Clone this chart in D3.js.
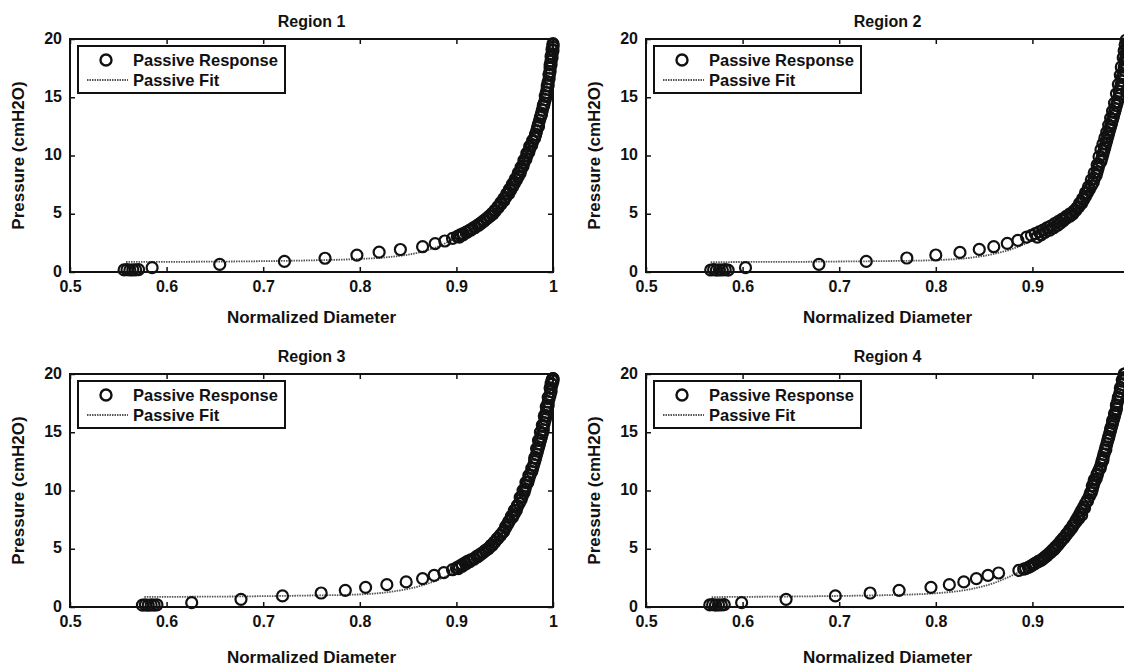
<!DOCTYPE html>
<html>
<head>
<meta charset="utf-8">
<script src="https://cdn.jsdelivr.net/npm/d3@7"></script>
<style>
  body { margin: 0; background: #fff; }
  svg text { font-family: "Liberation Sans", Arial, sans-serif; font-weight: bold; fill: #111; }
</style>
</head>
<body>
<div id="chart"></div>
<script>
// ---- data ----
const regionNames = ["Region 1", "Region 2", "Region 3", "Region 4"];
const xTicks = [0.5, 0.6, 0.7, 0.8, 0.9, 1];
const yTicks = [0, 5, 10, 15, 20];
const legendLabels = ["Passive Response", "Passive Fit"];

// [normalized diameter, pressure] -- first sweep
const r1Response = [[0.556,0.18],[0.559,0.2],[0.562,0.17],[0.565,0.19],[0.568,0.18],[0.571,0.2],[0.585,0.37],[0.655,0.65],[0.722,0.91],[0.764,1.18],[0.797,1.45],[0.82,1.7],[0.842,1.93],[0.865,2.17],[0.878,2.43],[0.888,2.66],[0.896,2.88],
  [0.901,3.05],[0.904,3.18],[0.907,3.3],[0.91,3.42],[0.913,3.55],[0.916,3.7],[0.919,3.86],[0.922,4.02],[0.925,4.2],[0.928,4.38],[0.931,4.58],[0.934,4.8],[0.937,5.02],[0.94,5.3],[0.943,5.6],[0.946,5.95],[0.949,6.3],[0.952,6.7],[0.955,7.1],[0.958,7.55],[0.961,8.0],[0.964,8.5],[0.967,9.0],[0.97,9.6],[0.973,10.2],[0.976,10.8],[0.979,11.3],[0.982,11.8],[0.985,12.5],[0.988,13.5],[0.99,14.3],[0.992,15.1],[0.994,16.0],[0.996,17.0],[0.997,17.8],[0.998,18.5],[0.999,19.1],[1.0,19.5]];
// second sweep, denser near the top
const r1Cluster = [[0.903,3.0],[0.907,3.2],[0.911,3.4],[0.915,3.6],[0.919,3.8],[0.923,4.0],[0.926,4.2],[0.929,4.4],[0.932,4.6],[0.935,4.8],[0.938,5.0],[0.94,5.2],[0.943,5.5],[0.946,5.8],[0.949,6.1],[0.951,6.4],[0.954,6.7],[0.956,7.0],[0.958,7.3],[0.96,7.6],[0.962,7.9],[0.964,8.2],[0.966,8.5],[0.967,8.8],[0.969,9.1],[0.97,9.4],[0.972,9.7],[0.973,10.0],[0.975,10.3],[0.976,10.6],[0.978,10.9],[0.979,11.2],[0.981,11.5],[0.982,11.8],[0.983,12.1],[0.984,12.4],[0.985,12.7],[0.986,13.0],[0.987,13.3],[0.988,13.6],[0.989,13.9],[0.99,14.2],[0.991,14.5],[0.992,14.8],[0.993,15.1],[0.993,15.4],[0.994,15.7],[0.995,16.0],[0.995,16.3],[0.996,16.6],[0.996,16.9],[0.997,17.2],[0.997,17.5],[0.998,17.8],[0.998,18.1],[0.999,18.4],[0.999,18.7],[1.0,19.0],[1.0,19.3],[1.0,19.6]];
const r1Fit = [[0.558,0.86],[0.6,0.87],[0.65,0.89],[0.7,0.93],[0.75,1.0],[0.8,1.12],[0.83,1.28],[0.86,1.65],[0.88,2.15],[0.9,2.95],[0.92,3.9],[0.94,5.25],[0.96,7.7],[0.97,9.5],[0.98,11.5],[0.99,14.3],[1.0,19.5]];

const r2Response = [[0.567,0.17],[0.57,0.2],[0.573,0.16],[0.576,0.19],[0.579,0.17],[0.582,0.2],[0.585,0.16],[0.603,0.37],[0.679,0.66],[0.728,0.91],[0.77,1.2],[0.8,1.46],[0.825,1.68],[0.845,1.94],[0.86,2.17],[0.874,2.46],[0.885,2.71],[0.894,3.0],
  [0.899,3.15],[0.903,3.3],[0.907,3.45],[0.911,3.6],[0.915,3.78],[0.919,3.95],[0.923,4.15],[0.927,4.35],[0.931,4.55],[0.935,4.78],[0.939,5.0],[0.943,5.25],[0.946,5.5],[0.949,5.9],[0.952,6.3],[0.955,6.8],[0.958,7.3],[0.961,7.9],[0.964,8.5],[0.967,9.2],[0.969,9.9],[0.971,10.5],[0.973,11.0],[0.975,11.5],[0.977,12.0],[0.979,12.6],[0.981,13.2],[0.983,13.8],[0.985,14.5],[0.987,15.3],[0.989,16.1],[0.991,16.9],[0.992,17.6],[0.994,18.4],[0.995,19.0],[0.996,19.5],[0.997,19.9]];
const r2Cluster = [[0.905,3.0],[0.909,3.2],[0.913,3.4],[0.918,3.6],[0.922,3.8],[0.926,4.0],[0.929,4.2],[0.932,4.4],[0.935,4.6],[0.939,4.8],[0.942,5.0],[0.945,5.3],[0.948,5.6],[0.951,5.9],[0.953,6.2],[0.955,6.5],[0.957,6.8],[0.959,7.1],[0.961,7.4],[0.963,7.7],[0.964,8.0],[0.966,8.3],[0.967,8.6],[0.968,8.9],[0.969,9.2],[0.971,9.5],[0.972,9.8],[0.973,10.1],[0.974,10.4],[0.975,10.7],[0.976,11.0],[0.977,11.3],[0.978,11.6],[0.979,11.9],[0.98,12.2],[0.981,12.5],[0.982,12.8],[0.983,13.1],[0.984,13.4],[0.985,13.7],[0.986,14.0],[0.987,14.3],[0.988,14.6],[0.989,14.9],[0.99,15.2],[0.99,15.5],[0.991,15.8],[0.992,16.1],[0.993,16.4],[0.993,16.7],[0.994,17.0],[0.995,17.3],[0.995,17.6],[0.996,17.9],[0.996,18.2],[0.997,18.5],[0.997,18.8],[0.998,19.1],[0.998,19.4],[0.999,19.7]];
const r2Fit = [[0.567,0.85],[0.6,0.86],[0.65,0.87],[0.7,0.9],[0.75,0.94],[0.8,1.02],[0.83,1.17],[0.86,1.55],[0.88,2.0],[0.9,2.7],[0.92,3.6],[0.94,4.9],[0.96,7.3],[0.97,9.6],[0.98,12.5],[0.99,16.2],[0.997,19.9]];

const r3Response = [[0.575,0.16],[0.578,0.19],[0.581,0.15],[0.584,0.18],[0.587,0.16],[0.59,0.19],[0.626,0.37],[0.677,0.66],[0.72,0.95],[0.76,1.2],[0.785,1.43],[0.806,1.69],[0.828,1.92],[0.848,2.15],[0.865,2.44],[0.877,2.72],[0.887,2.95],[0.896,3.2],
  [0.9,3.35],[0.903,3.5],[0.906,3.65],[0.909,3.8],[0.912,3.95],[0.915,4.05],[0.918,4.15],[0.921,4.35],[0.924,4.5],[0.927,4.65],[0.93,4.85],[0.933,5.0],[0.936,5.3],[0.939,5.55],[0.942,5.85],[0.945,6.1],[0.948,6.4],[0.951,6.9],[0.954,7.3],[0.957,7.8],[0.96,8.3],[0.963,8.7],[0.966,9.4],[0.969,10.0],[0.972,10.7],[0.975,11.3],[0.978,11.9],[0.981,12.8],[0.983,13.6],[0.985,14.3],[0.987,15.0],[0.989,15.6],[0.991,16.4],[0.993,17.2],[0.995,18.0],[0.997,18.8],[0.998,19.2],[0.999,19.5],[1.0,19.6]];
const r3Cluster = [[0.902,3.3],[0.906,3.5],[0.91,3.7],[0.914,3.9],[0.918,4.1],[0.922,4.3],[0.925,4.5],[0.928,4.7],[0.931,4.9],[0.934,5.1],[0.937,5.3],[0.94,5.6],[0.943,5.9],[0.946,6.2],[0.949,6.5],[0.951,6.8],[0.953,7.1],[0.955,7.4],[0.958,7.7],[0.96,8.0],[0.962,8.3],[0.963,8.6],[0.965,8.9],[0.967,9.2],[0.968,9.5],[0.97,9.8],[0.971,10.1],[0.972,10.4],[0.974,10.7],[0.975,11.0],[0.976,11.3],[0.978,11.6],[0.979,11.9],[0.98,12.2],[0.981,12.5],[0.982,12.8],[0.983,13.1],[0.984,13.4],[0.985,13.7],[0.986,14.0],[0.987,14.3],[0.988,14.6],[0.989,14.9],[0.99,15.2],[0.99,15.5],[0.991,15.8],[0.992,16.1],[0.993,16.4],[0.993,16.7],[0.994,17.0],[0.995,17.3],[0.995,17.6],[0.996,17.9],[0.997,18.2],[0.998,18.5],[0.998,18.8],[0.999,19.1],[1.0,19.4],[1.0,19.6]];
const r3Fit = [[0.577,0.86],[0.6,0.87],[0.65,0.89],[0.7,0.93],[0.75,0.99],[0.8,1.08],[0.83,1.28],[0.86,1.75],[0.88,2.3],[0.9,3.1],[0.92,4.15],[0.94,5.6],[0.96,8.0],[0.97,9.9],[0.98,12.3],[0.99,15.6],[1.0,19.6]];

const r4Response = [[0.566,0.18],[0.569,0.2],[0.572,0.16],[0.575,0.19],[0.578,0.17],[0.581,0.2],[0.599,0.37],[0.645,0.66],[0.696,0.95],[0.732,1.2],[0.762,1.43],[0.795,1.69],[0.814,1.92],[0.829,2.15],[0.842,2.44],[0.854,2.72],[0.865,2.92],
  [0.886,3.14],[0.891,3.25],[0.896,3.4],[0.9,3.6],[0.903,3.75],[0.906,3.9],[0.909,4.0],[0.912,4.2],[0.915,4.4],[0.918,4.65],[0.921,4.9],[0.924,5.15],[0.927,5.4],[0.93,5.7],[0.933,5.95],[0.936,6.3],[0.939,6.65],[0.942,7.0],[0.945,7.3],[0.948,7.6],[0.951,7.9],[0.954,8.5],[0.957,9.1],[0.96,9.8],[0.962,10.4],[0.964,10.9],[0.967,11.4],[0.97,11.9],[0.973,12.6],[0.976,13.5],[0.979,14.6],[0.981,15.3],[0.983,16.0],[0.985,16.6],[0.987,17.3],[0.989,18.0],[0.991,18.8],[0.993,19.5],[0.995,20.0]];
const r4Cluster = [[0.893,3.3],[0.898,3.5],[0.902,3.7],[0.906,3.9],[0.91,4.1],[0.913,4.3],[0.916,4.5],[0.919,4.7],[0.922,4.9],[0.924,5.1],[0.926,5.3],[0.929,5.6],[0.932,5.9],[0.935,6.2],[0.938,6.5],[0.941,6.8],[0.943,7.1],[0.945,7.4],[0.947,7.7],[0.949,8.0],[0.951,8.3],[0.953,8.6],[0.955,8.9],[0.957,9.2],[0.959,9.5],[0.961,9.8],[0.962,10.1],[0.963,10.4],[0.964,10.7],[0.966,11.0],[0.967,11.3],[0.968,11.6],[0.97,11.9],[0.971,12.2],[0.972,12.5],[0.973,12.8],[0.974,13.1],[0.975,13.4],[0.976,13.7],[0.977,14.0],[0.978,14.3],[0.979,14.6],[0.98,14.9],[0.981,15.2],[0.982,15.5],[0.983,15.8],[0.984,16.1],[0.985,16.4],[0.986,16.7],[0.987,17.0],[0.987,17.3],[0.988,17.6],[0.989,17.9],[0.99,18.2],[0.991,18.5],[0.992,18.8],[0.993,19.1],[0.994,19.4],[0.995,19.7],[0.996,20.0]];
const r4Fit = [[0.568,0.85],[0.6,0.87],[0.65,0.9],[0.7,0.95],[0.75,1.02],[0.8,1.18],[0.84,1.6],[0.86,2.05],[0.88,2.75],[0.9,3.6],[0.92,4.8],[0.94,6.6],[0.96,9.6],[0.97,11.8],[0.98,14.8],[0.99,18.3],[0.995,20.0]];

const responses = [r1Response.concat(r1Cluster), r2Response.concat(r2Cluster),
                   r3Response.concat(r3Cluster), r4Response.concat(r4Cluster)];
const fits = [r1Fit, r2Fit, r3Fit, r4Fit];

// ---- layout ----
const W = 1124, H = 666;
const panelLeft = [70, 646];
const panelTop = [39, 374];
const xLabelGap = [45, 50];
const pw = 483, ph = 233;
const tickLen = 5;
const ink = "#111";

const svg = d3.select("#chart").append("svg")
  .attr("width", W).attr("height", H);

function styleTicks(a) {
  a.select(".domain").remove();
  a.selectAll("line").attr("stroke", ink).attr("stroke-width", 1.5);
  a.selectAll("text").attr("font-size", 16).attr("fill", ink);
}

regionNames.forEach((name, i) => {
  const row = Math.floor(i / 2);
  const px = panelLeft[i % 2], py = panelTop[row];
  const g = svg.append("g").attr("transform", `translate(${px},${py})`);

  const x = d3.scaleLinear().domain([0.5, 1]).range([0, pw]);
  const y = d3.scaleLinear().domain([0, 20]).range([ph, 0]);

  const clipId = "clip" + i;
  g.append("clipPath").attr("id", clipId)
    .append("rect").attr("x", -8).attr("y", -8).attr("width", pw + 16).attr("height", ph + 16);

  // matlab-style box: ticks inside on all four sides
  g.append("g").attr("transform", `translate(0,${ph})`)
    .call(d3.axisBottom(x).tickValues(xTicks).tickSizeInner(-tickLen).tickSizeOuter(0).tickPadding(9)
      .tickFormat(d3.format("")))
    .call(styleTicks);
  g.append("g")
    .call(d3.axisTop(x).tickValues(xTicks).tickSizeInner(-tickLen).tickSizeOuter(0).tickFormat(""))
    .call(styleTicks);
  g.append("g")
    .call(d3.axisLeft(y).tickValues(yTicks).tickSizeInner(-tickLen).tickSizeOuter(0).tickPadding(8))
    .call(styleTicks)
    .call(a => a.selectAll("text").attr("dy", "0.25em"));
  g.append("g").attr("transform", `translate(${pw},0)`)
    .call(d3.axisRight(y).tickValues(yTicks).tickSizeInner(-tickLen).tickSizeOuter(0).tickFormat(""))
    .call(styleTicks);

  // fit line
  const line = d3.line().x(d => x(d[0])).y(d => y(d[1])).curve(d3.curveMonotoneX);
  g.append("path").datum(fits[i])
    .attr("clip-path", `url(#${clipId})`)
    .attr("fill", "none").attr("stroke", "#555").attr("stroke-width", 1.8)
    .attr("stroke-dasharray", "1.5,1")
    .attr("d", line);

  // response circles
  g.append("g").attr("clip-path", `url(#${clipId})`)
    .selectAll("circle").data(responses[i]).join("circle")
    .attr("cx", d => x(d[0])).attr("cy", d => y(d[1]))
    .attr("r", 5.5).attr("fill", "none").attr("stroke", ink).attr("stroke-width", 2.2);

  // frame
  g.append("rect").attr("width", pw).attr("height", ph)
    .attr("fill", "none").attr("stroke", ink).attr("stroke-width", 2);

  // legend
  const lg = g.append("g").attr("transform", "translate(8,7)");
  lg.append("rect").attr("width", 207).attr("height", 47)
    .attr("fill", "#fff").attr("stroke", ink).attr("stroke-width", 2);
  lg.append("circle").attr("cx", 28).attr("cy", 14).attr("r", 5.5)
    .attr("fill", "none").attr("stroke", ink).attr("stroke-width", 2.4);
  lg.append("line").attr("x1", 9).attr("x2", 50).attr("y1", 34).attr("y2", 34)
    .attr("stroke", "#555").attr("stroke-width", 1.8).attr("stroke-dasharray", "1.5,1");
  legendLabels.forEach((t, k) => {
    lg.append("text").attr("x", 55).attr("y", 14 + k * 20).attr("dy", "0.36em")
      .attr("font-size", 16.5).text(t);
  });

  // title and axis labels
  g.append("text").attr("x", pw / 2).attr("y", -18).attr("dy", "0.36em")
    .attr("text-anchor", "middle").attr("font-size", 16).text(name);
  g.append("text").attr("x", pw / 2).attr("y", ph + xLabelGap[row]).attr("dy", "0.36em")
    .attr("text-anchor", "middle").attr("font-size", 17).text("Normalized Diameter");
  g.append("text").attr("transform", `translate(-52,${ph / 2}) rotate(-90)`)
    .attr("dy", "0.36em").attr("text-anchor", "middle").attr("font-size", 17).text("Pressure (cmH2O)");
});
</script>
</body>
</html>
